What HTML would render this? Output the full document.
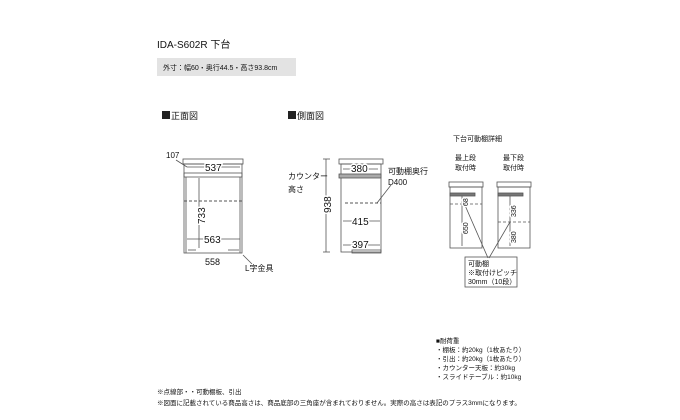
<!DOCTYPE html>
<html><head><meta charset="utf-8"><style>
html,body{margin:0;padding:0;background:#fff;}
svg{display:block;font-family:"Liberation Sans","Noto Sans CJK JP",sans-serif;}
.d{paint-order:stroke;stroke:#fff;stroke-width:3px;}
</style></head><body>
<svg width="680" height="420" viewBox="0 0 680 420" xmlns="http://www.w3.org/2000/svg">
<text x="157" y="48" font-size="10" fill="#111">IDA-S602R 下台</text>
<rect x="157" y="58" width="139" height="18" fill="#e3e3e3"/>
<text x="163" y="70" font-size="7" fill="#111">外寸：幅60・奥行44.5・高さ93.8cm</text>
<rect x="162" y="111" width="8" height="8" fill="#222"/>
<text x="171" y="119" font-size="9" fill="#111">正面図</text>
<rect x="288" y="111" width="8" height="8" fill="#222"/>
<text x="297" y="119" font-size="9" fill="#111">側面図</text>

<g stroke="#555" fill="none" stroke-width="0.8">
<rect x="183" y="159" width="60" height="5"/>
<rect x="184" y="164" width="58" height="89"/>
<rect x="184" y="173" width="58" height="4"/>
<line x1="186" y1="177" x2="186" y2="253"/><line x1="240" y1="177" x2="240" y2="253"/>
<line x1="188" y1="250" x2="196" y2="250"/><line x1="228" y1="250" x2="239" y2="250"/>
<line x1="184" y1="201" x2="242" y2="201" stroke-dasharray="3,2" stroke-width="1"/>
<line x1="199" y1="178" x2="199" y2="248"/>
<line x1="187" y1="167" x2="240" y2="167"/>
<line x1="187" y1="239" x2="240" y2="239"/>
<line x1="176" y1="160" x2="187" y2="167"/>
<line x1="243" y1="255" x2="252" y2="264"/>
<rect x="339" y="159" width="44" height="5"/>
<rect x="341" y="164" width="40" height="88"/>
<rect x="339" y="174" width="42" height="4" fill="#aaa"/>
<rect x="352" y="250" width="29" height="3"/>
<line x1="326" y1="159" x2="326" y2="252"/>
<line x1="323" y1="159" x2="330" y2="159"/><line x1="323" y1="252" x2="330" y2="252"/>
<line x1="345" y1="203" x2="381" y2="203" stroke-dasharray="3,2" stroke-width="1"/>
<line x1="343" y1="169" x2="378" y2="169"/>
<line x1="343" y1="221" x2="380" y2="221"/>
<line x1="343" y1="245" x2="380" y2="245"/>
<line x1="377" y1="203" x2="391" y2="185"/>
<rect x="449" y="182" width="34" height="5"/>
<rect x="450" y="187" width="32" height="61"/>
<rect x="450" y="193" width="25" height="3" fill="#777"/>
<line x1="450" y1="204" x2="482" y2="204" stroke-dasharray="3,2"/>
<line x1="462" y1="196" x2="462" y2="246"/>
<line x1="464" y1="203" x2="488" y2="258"/>
<rect x="497" y="182" width="34" height="5"/>
<rect x="498" y="187" width="32" height="61"/>
<rect x="498" y="193" width="25" height="3" fill="#777"/>
<line x1="498" y1="222" x2="530" y2="222" stroke-dasharray="3,2"/>
<line x1="510" y1="196" x2="510" y2="246"/>
<line x1="510" y1="222" x2="489" y2="258"/>
<rect x="465" y="257" width="52" height="30"/>
</g>
<g fill="#111" font-size="10">
<text class="d" x="205" y="171">537</text>
<text class="d" x="204" y="243">563</text>
<text x="205" y="265" font-size="9">558</text>
<text class="d" transform="translate(205,224) rotate(-90)">733</text>
<text x="166" y="158" font-size="8">107</text>
<text x="245" y="271" font-size="8">L字金具</text>
<text class="d" x="351" y="172">380</text>
<text class="d" x="352" y="225">415</text>
<text class="d" x="352" y="248">397</text>
<text class="d" transform="translate(331,213) rotate(-90)">938</text>
<text x="388" y="174" font-size="8">可動棚奥行</text>
<text x="388" y="185" font-size="8">D400</text>
<text x="288" y="179" font-size="8">カウンター</text>
<text x="288" y="192" font-size="8">高さ</text>
</g>
<g fill="#111" font-size="7">
<text x="453" y="141">下台可動棚詳細</text>
<text x="455" y="160">最上段</text><text x="455" y="170">取付時</text>
<text x="503" y="160">最下段</text><text x="503" y="170">取付時</text>
<text class="d" transform="translate(468,206) rotate(-90)">68</text>
<text class="d" transform="translate(468,234) rotate(-90)">650</text>
<text class="d" transform="translate(516,217) rotate(-90)">336</text>
<text class="d" transform="translate(516,243) rotate(-90)">380</text>
<text x="468" y="266">可動棚</text>
<text x="468" y="275">※取付けピッチ</text>
<text x="468" y="284">30mm（10段）</text>
<text x="436" y="343" font-size="6.5">■耐荷重</text>
<text x="436" y="352" font-size="6.5">・棚板：約20kg（1枚あたり）</text>
<text x="436" y="361" font-size="6.5">・引出：約20kg（1枚あたり）</text>
<text x="436" y="370" font-size="6.5">・カウンター天板：約30kg</text>
<text x="436" y="379" font-size="6.5">・スライドテーブル：約10kg</text>
<text x="157" y="394" font-size="6.5">※点線部・・可動棚板、引出</text>
<text x="157" y="405" font-size="6.5">※図面に記載されている商品高さは、商品底部の三角座が含まれておりません。実際の高さは表記のプラス3mmになります。</text>
</g>
</svg>
</body></html>
